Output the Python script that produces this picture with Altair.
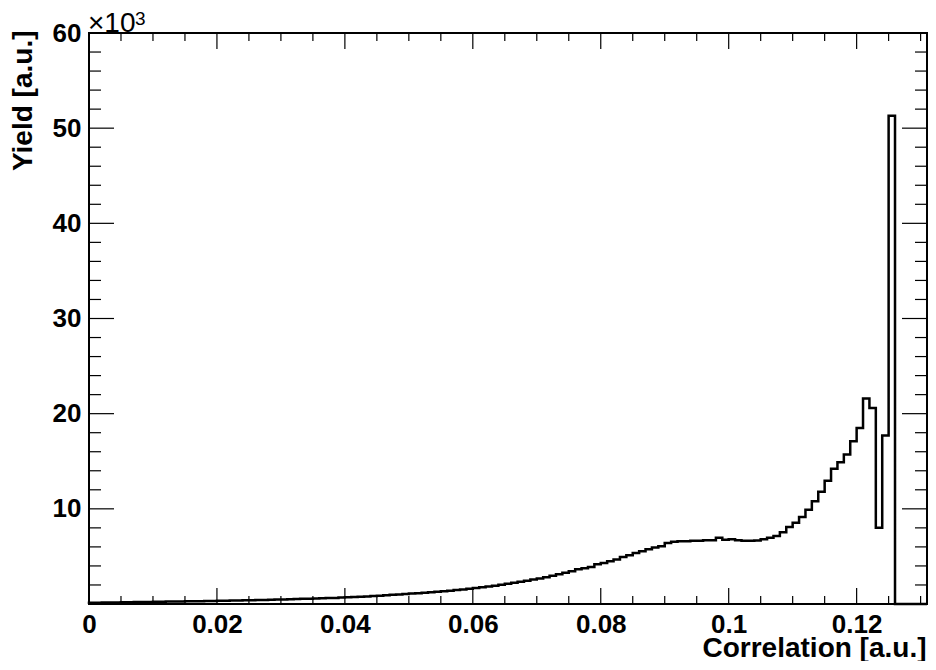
import altair as alt
import pandas as pd

# ---- data (yield in units of 10^3, one value per bin of width 0.001 starting at 0) ----
bin_width = 0.001
x_max = 0.131
counts_a = [0.12, 0.14, 0.15, 0.16, 0.17, 0.18, 0.19, 0.20, 0.21, 0.22,
            0.23, 0.24, 0.25, 0.26, 0.27, 0.28, 0.29, 0.30, 0.31, 0.32,
            0.34, 0.35, 0.36, 0.37, 0.39, 0.40, 0.42, 0.43, 0.45, 0.46]
counts_b = [0.48, 0.50, 0.52, 0.54, 0.56, 0.58, 0.60, 0.62, 0.64, 0.67,
            0.70, 0.73, 0.76, 0.80, 0.84, 0.88, 0.92, 0.96, 1.00, 1.05,
            1.10, 1.14, 1.19, 1.24, 1.29, 1.35, 1.40, 1.46, 1.52, 1.60]
counts_c = [1.68, 1.76, 1.84, 1.93, 2.02, 2.12, 2.22, 2.34, 2.45, 2.57,
            2.68, 2.82, 2.97, 3.12, 3.28, 3.45, 3.65, 3.75, 3.90, 4.18,
            4.32, 4.50, 4.67, 4.95, 5.12, 5.37, 5.54, 5.75, 5.93, 6.07]
counts_d = [6.42, 6.53, 6.60, 6.60, 6.65, 6.65, 6.70, 6.70, 6.95, 6.75,
            6.80, 6.70, 6.65, 6.65, 6.68, 6.80, 6.95, 7.15, 7.55, 8.10,
            8.55, 9.15, 9.90, 10.80, 11.80, 12.95, 14.20, 14.90, 15.70, 17.10]
counts_e = [18.50, 21.60, 20.60, 8.00, 17.70, 51.30, 0, 0, 0, 0, 0]

x_major = [0, 0.02, 0.04, 0.06, 0.08, 0.10, 0.12]
x_minor = [0.005, 0.01, 0.015, 0.025, 0.03, 0.035, 0.045, 0.05, 0.055,
           0.065, 0.07, 0.075, 0.085, 0.09, 0.095, 0.105, 0.11, 0.115, 0.125, 0.13]
y_major = [10, 20, 30, 40, 50]
y_minor = [2, 4, 6, 8, 12, 14, 16, 18, 22, 24, 26, 28, 32, 34, 36, 38,
           42, 44, 46, 48, 52, 54, 56, 58]
y_labels = [10, 20, 30, 40, 50, 60]

counts = counts_a + counts_b + counts_c + counts_d + counts_e
edges = [i * bin_width for i in range(len(counts))]
hist = pd.DataFrame({
    "x": [0.0] + edges + [x_max],
    "y": [0.0] + counts + [counts[-1]],
})

W, H = 838, 571
FONT = "Liberation Sans"
XMAJ, XMIN = 16, 8
YMAJ, YMIN = 25, 12

xs = alt.Scale(domain=[0, x_max], nice=False, zero=False)
ys = alt.Scale(domain=[0, 60], nice=False)

line = alt.Chart(hist).mark_line(
    interpolate="step-after", color="black", strokeWidth=2.5
).encode(
    x=alt.X("x:Q", scale=xs, axis=alt.Axis(
        values=x_major, format=".2~f", ticks=False, domain=False, grid=False,
        tickSize=0, labelPadding=7, labelFlush=False, labelOverlap=False,
        labelFont=FONT, labelFontSize=26, labelFontWeight="bold", labelColor="black",
        title="Correlation [a.u.]", titleFont=FONT, titleFontSize=28,
        titleFontWeight="bold", titleColor="black", titleAnchor="end",
        titleAlign="right", titleX=W - 1, titleY=52, titleBaseline="alphabetic")),
    y=alt.Y("y:Q", scale=ys, axis=alt.Axis(
        values=y_labels, ticks=False, domain=False, grid=False, tickSize=0,
        labelPadding=8, labelOverlap=False, labelFlush=False,
        labelFont=FONT, labelFontSize=26, labelFontWeight="bold", labelColor="black",
        title="Yield [a.u.]", titleFont=FONT, titleFontSize=28,
        titleFontWeight="bold", titleColor="black", titleAngle=-90,
        titleAlign="right", titleX=-58, titleY=-3, titleBaseline="alphabetic")),
)

def xticks(vals, length):
    df = pd.DataFrame({"t": vals})
    bot = alt.Chart(df).mark_rule(color="black", strokeWidth=1.2).encode(
        x=alt.X("t:Q", scale=xs), y=alt.value(H), y2=alt.value(H - length))
    top = alt.Chart(df).mark_rule(color="black", strokeWidth=1.2).encode(
        x=alt.X("t:Q", scale=xs), y=alt.value(0), y2=alt.value(length))
    return [bot, top]

def yticks(vals, length):
    df = pd.DataFrame({"t": vals})
    left = alt.Chart(df).mark_rule(color="black", strokeWidth=1.2).encode(
        y=alt.Y("t:Q", scale=ys), x=alt.value(0), x2=alt.value(length))
    right = alt.Chart(df).mark_rule(color="black", strokeWidth=1.2).encode(
        y=alt.Y("t:Q", scale=ys), x=alt.value(W), x2=alt.value(W - length))
    return [left, right]

exp_base = alt.Chart(pd.DataFrame({"s": ["\u00d710"]})).mark_text(
    font=FONT, fontSize=28, fontWeight="normal", align="left", baseline="alphabetic",
    color="black").encode(text="s:N", x=alt.value(-1), y=alt.value(-1))
exp_pow = alt.Chart(pd.DataFrame({"s": ["3"]})).mark_text(
    font=FONT, fontSize=19, fontWeight="normal", align="left", baseline="alphabetic",
    color="black").encode(text="s:N", x=alt.value(46), y=alt.value(-8))

layers = [line] + xticks(x_major, XMAJ) + xticks(x_minor, XMIN) \
    + yticks(y_major, YMAJ) + yticks(y_minor, YMIN) + [exp_base, exp_pow]

chart = alt.layer(*layers).properties(
    width=W, height=H,
    padding={"left": 81, "top": 25, "right": 1, "bottom": 57},
    autosize=alt.AutoSizeParams(type="none"),
    background="white",
).configure_view(stroke="black", strokeWidth=2)

chart.save("out.html", embed_options={"renderer": "svg", "actions": False})
